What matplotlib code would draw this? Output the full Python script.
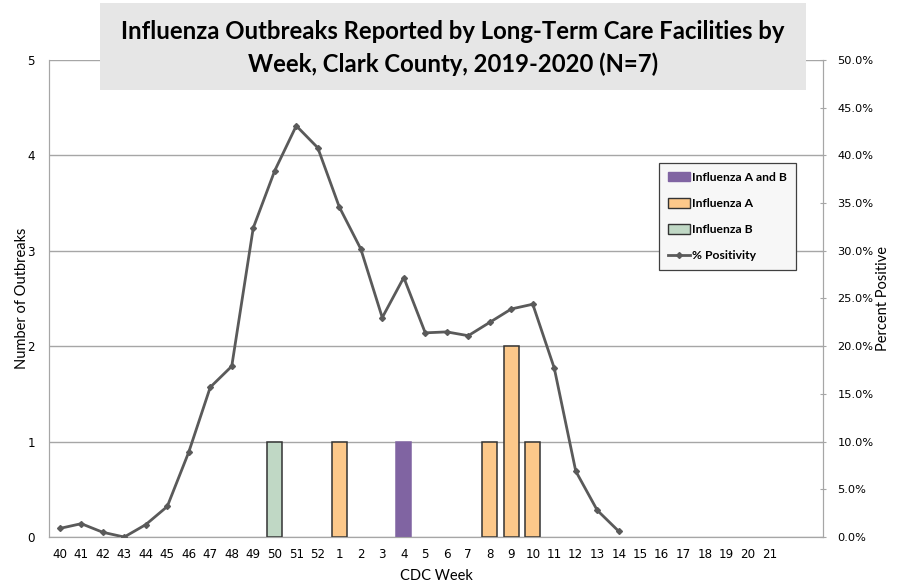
import matplotlib

matplotlib.use("Agg")
import matplotlib.pyplot as plt
from matplotlib.lines import Line2D
from matplotlib.patches import Patch, Rectangle
from matplotlib.ticker import FuncFormatter, MultipleLocator

weeks = [str(w) for w in range(40, 53)] + [str(w) for w in range(1, 22)] + ["", ""]
flu_ab = [0] * 16 + [1] + [0] * 19
flu_a = [0] * 13 + [1] + [0] * 6 + [1, 2, 1] + [0] * 13
flu_b = [0] * 10 + [1] + [0] * 25
positivity = [0.9, 1.4, 0.5, 0.0, 1.3, 3.2, 8.9, 15.7, 17.9, 32.4, 38.4, 43.1, 40.8,
              34.6, 30.2, 23.0, 27.2, 21.4, 21.5, 21.1, 22.5, 23.9, 24.4, 17.7, 6.9, 2.8, 0.6]

C_AB = "#8064a2"
C_A = "#fcc88a"
C_B = "#c0d8c5"
C_LINE = "#5a5a5a"
GRID = "#a6a6a6"
FONT = "Lato"
TICKFONT = "DejaVu Sans"

plt.rcParams["font.family"] = [FONT, "DejaVu Sans"]

fig = plt.figure(figsize=(8.99, 5.85), dpi=100)
ax = fig.add_axes([0.0545, 0.082, 0.861, 0.8155])
x = list(range(len(weeks)))

bottom = [0] * len(weeks)
for vals, color, edge in [(flu_ab, C_AB, C_AB), (flu_a, C_A, "#333333"), (flu_b, C_B, "#333333")]:
    keep = [i for i, v in enumerate(vals) if v > 0]
    ax.bar([x[i] for i in keep], [vals[i] for i in keep], width=0.68,
           bottom=[bottom[i] for i in keep], color=color, edgecolor=edge, linewidth=1.1, zorder=3)
    bottom = [b + v for b, v in zip(bottom, vals)]

ax.set_xlim(-0.5, len(weeks) - 0.5)
ax.set_ylim(0, 5)
ax.yaxis.set_major_locator(MultipleLocator(1))
ax.grid(axis="y", color=GRID, linewidth=1.0, zorder=0)
ax.set_axisbelow(True)
ax.set_xticks(x)
ax.set_xticklabels(weeks)
ax.tick_params(axis="x", length=0, pad=8)
ax.tick_params(axis="y", length=0, pad=10)
for lab in ax.get_xticklabels() + ax.get_yticklabels():
    lab.set_fontfamily(TICKFONT)
    lab.set_fontsize(8.6)
ax.spines["top"].set_visible(False)
for side in ["left", "bottom", "right"]:
    ax.spines[side].set_color(GRID)
ax.set_ylabel("Number of Outbreaks", fontsize=10.5)
ax.set_xlabel("CDC Week", fontsize=10.5)
ax.yaxis.set_label_coords(-0.026, 0.5)
ax.xaxis.set_label_coords(0.5, -0.066)

ax2 = ax.twinx()
ax2.plot(range(len(positivity)), positivity, color=C_LINE, linewidth=2.0,
         marker="D", markersize=3, zorder=5)
ax2.set_ylim(0, 50)
ax2.yaxis.set_major_locator(MultipleLocator(5))
ax2.yaxis.set_major_formatter(FuncFormatter(lambda v, _: f"{v:.1f}%"))
ax2.tick_params(axis="y", direction="inout", length=5, color=GRID, pad=8)
for lab in ax2.get_yticklabels():
    lab.set_fontfamily(TICKFONT)
    lab.set_fontsize(8.2)
ax2.spines["top"].set_visible(False)
for side in ["left", "bottom", "right"]:
    ax2.spines[side].set_color(GRID)
ax2.set_ylabel("Percent Positive", fontsize=10.5)
ax2.yaxis.set_label_coords(1.069, 0.5)

handles = [
    Patch(facecolor=C_AB, edgecolor=C_AB, label="Influenza A and B"),
    Patch(facecolor=C_A, edgecolor="#333333", label="Influenza A"),
    Patch(facecolor=C_B, edgecolor="#333333", label="Influenza B"),
    Line2D([0], [0], color=C_LINE, linewidth=2, marker="D", markersize=3, label="% Positivity"),
]
leg = ax2.legend(handles=handles, loc="upper left", bbox_to_anchor=(659 / 899, 1 - 163 / 585),
                 bbox_transform=fig.transFigure, prop={"family": FONT, "weight": "bold", "size": 8.7},
                 frameon=True, fancybox=False, edgecolor="#404040", facecolor="#f7f7f7",
                 framealpha=1, handlelength=1.8, handleheight=0.8, handletextpad=0.2,
                 labelspacing=1.25, borderpad=0.75, borderaxespad=0)
leg.get_frame().set_linewidth(0.9)
leg.set_zorder(10)

fig.patches.append(Rectangle((100 / 899, 1 - 90 / 585), 706 / 899, 87 / 585,
                             transform=fig.transFigure, facecolor="#e6e6e6", edgecolor="none", zorder=5))
fig.text(453 / 899, 1 - 48 / 585,
         "Influenza Outbreaks Reported by Long-Term Care Facilities by\nWeek, Clark County, 2019-2020 (N=7)",
         ha="center", va="center", fontsize=17.2, fontweight="bold", linespacing=1.45, zorder=6)

fig.savefig("out.png", dpi=100)
